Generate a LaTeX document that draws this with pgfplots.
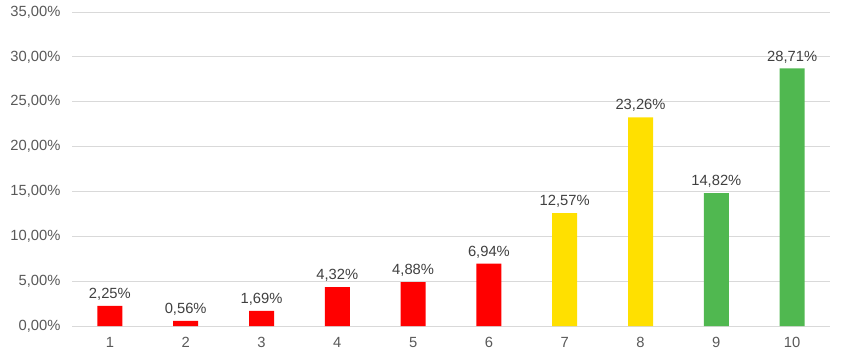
\documentclass[border=0pt]{standalone}
\usepackage{pgfplots}
\pgfplotsset{compat=1.18}
\usepackage{fontspec}
\setmainfont{Liberation Sans}
\definecolor{cred}{HTML}{FF0000}
\definecolor{cyel}{HTML}{FFE000}
\definecolor{cgrn}{HTML}{50B850}
\definecolor{cgrid}{HTML}{D9D9D9}
\definecolor{ctxt}{HTML}{595959}
\definecolor{clab}{HTML}{404040}
\begin{document}
\begin{tikzpicture}[x=1bp,y=1bp]
\useasboundingbox (0,0) rectangle (844,356);
\begin{axis}[
  at={(72bp,30bp)}, anchor=south west,
  scale only axis, width=758bp, height=314bp,
  xmin=0.5, xmax=10.5, ymin=0, ymax=35,
  xtick={1,...,10}, ytick={0,5,...,35},
  ymajorgrids, grid style={cgrid, line width=0.8pt},
  axis x line*=bottom, axis y line*=left,
  x axis line style={cgrid, line width=0.8pt, -},
  y axis line style={draw=none},
  major tick length=0pt,
  /pgf/number format/assume math mode=true,
  tick label style={font=\fontsize{14.8}{17}\selectfont, text=ctxt},
  yticklabel={\pgfmathprintnumber[fixed, fixed zerofill, precision=2, use comma]{\tick}\%},
  yticklabel style={xshift=-8bp},
  xticklabel style={yshift=-8bp},
  ybar, bar width=25bp,
  nodes near coords={\pgfmathprintnumber[fixed, fixed zerofill, precision=2, use comma, assume math mode=true]{\pgfplotspointmeta}\%},
  nodes near coords style={font=\fontsize{14.8}{17}\selectfont, text=clab, yshift=2bp},
  every axis plot/.append style={draw=none, bar shift=0pt},
  clip=false,
]
\addplot[fill=cred] coordinates {(1,2.25) (2,0.56) (3,1.69) (4,4.32) (5,4.88) (6,6.94)};
\addplot[fill=cyel] coordinates {(7,12.57) (8,23.26)};
\addplot[fill=cgrn] coordinates {(9,14.82) (10,28.71)};
\end{axis}
\end{tikzpicture}
\end{document}
